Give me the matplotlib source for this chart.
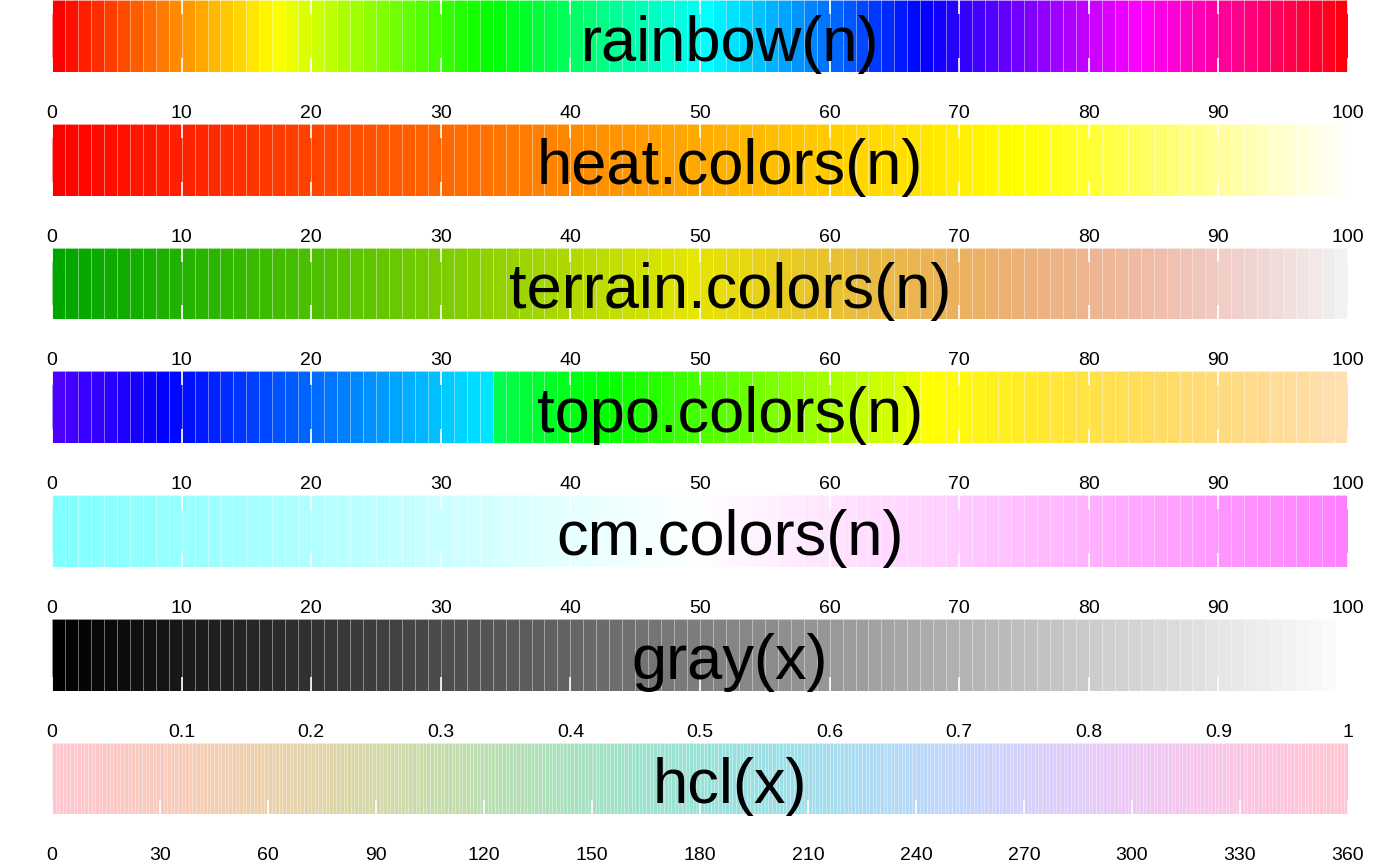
import numpy as np
import matplotlib
matplotlib.use("Agg")
import matplotlib.pyplot as plt
from matplotlib.colors import hsv_to_rgb

plt.rcParams['font.family'] = ['Liberation Sans', 'DejaVu Sans']

# data
n = 100
titles = ["rainbow(n)", "heat.colors(n)", "terrain.colors(n)", "topo.colors(n)",
          "cm.colors(n)", "gray(x)", "hcl(x)"]
ticks_n = [0, 10, 20, 30, 40, 50, 60, 70, 80, 90, 100]
ticks_gray = [0, 0.1, 0.2, 0.3, 0.4, 0.5, 0.6, 0.7, 0.8, 0.9, 1]
labels_gray = ["0", "0.1", "0.2", "0.3", "0.4", "0.5", "0.6", "0.7", "0.8", "0.9", "1"]
ticks_hcl = [0, 30, 60, 90, 120, 150, 180, 210, 240, 270, 300, 330, 360]
gray_levels = np.arange(0, 99) / 100      # gray(x), 0 .. 0.98
hcl_hues = np.arange(0, 360)              # hcl(h, c=35, l=85)


def hsv(h, s=1.0, v=1.0):
    h, s, v = np.broadcast_arrays(np.asarray(h, float), np.asarray(s, float), np.asarray(v, float))
    return hsv_to_rgb(np.column_stack([h % 1.0, s, v]))


def rainbow(k, start=0.0, end=None):
    if end is None:
        end = max(1, k - 1) / k
    return hsv(np.linspace(start, end, k))


def heat_colors(k):
    j = k // 4
    i = k - j
    return np.vstack([rainbow(i, 0, 1 / 6),
                      hsv(1 / 6, np.linspace(1 - 1 / (2 * j), 1 / (2 * j), j), 1)])


def terrain_colors(k):
    m = k // 2
    a = hsv(np.linspace(4 / 12, 2 / 12, m), np.linspace(1, 1, m), np.linspace(0.65, 0.9, m))
    b = hsv(np.linspace(2 / 12, 0, k - m + 1)[1:], np.linspace(1, 0, k - m + 1)[1:],
            np.linspace(0.9, 0.95, k - m + 1)[1:])
    return np.vstack([a, b])


def topo_colors(k):
    j = k // 3
    m = k // 3
    i = k - j - m
    return np.vstack([hsv(np.linspace(43 / 60, 31 / 60, i)),
                      hsv(np.linspace(23 / 60, 11 / 60, j)),
                      hsv(np.linspace(10 / 60, 6 / 60, m), np.linspace(1, 0.3, m), 1)])


def cm_colors(k):
    m = k // 2
    l1 = m
    l2 = k - m + 1
    return np.vstack([hsv(6 / 12, np.linspace(0.5, 0.5 / m, l1), 1),
                      hsv(10 / 12, np.linspace(0, 0.5, l2)[1:], 1)])


def gray(x):
    x = np.asarray(x, float)
    return np.column_stack([x, x, x])


def hcl(h, c=35, l=85):
    h = np.deg2rad(np.asarray(h, float))
    U = c * np.cos(h)
    V = c * np.sin(h)
    Xn, Yn, Zn = 95.047, 100.0, 108.883
    Y = Yn * ((l + 16) / 116) ** 3
    un = 4 * Xn / (Xn + 15 * Yn + 3 * Zn)
    vn = 9 * Yn / (Xn + 15 * Yn + 3 * Zn)
    u = U / (13 * l) + un
    v = V / (13 * l) + vn
    X = 9 * Y * u / (4 * v)
    Z = -X / 3 - 5 * Y + 3 * Y / v
    r = (3.240479 * X - 1.537150 * Y - 0.498535 * Z) / Yn
    g = (-0.969256 * X + 1.875992 * Y + 0.041556 * Z) / Yn
    b = (0.055648 * X - 0.204043 * Y + 1.057311 * Z) / Yn
    rgb = np.column_stack([r, g, b])
    rgb = np.where(rgb > 0.0031308, 1.055 * np.abs(rgb) ** (1 / 2.4) - 0.055, 12.92 * rgb)
    return np.clip(rgb, 0, 1)


idx = np.arange(n)
panels = [
    (idx, 1, rainbow(n), ticks_n, None, (0, 100), True),
    (idx, 1, heat_colors(n), ticks_n, None, (0, 100), True),
    (idx, 1, terrain_colors(n), ticks_n, None, (0, 100), True),
    (idx, 1, topo_colors(n), ticks_n, None, (0, 100), True),
    (idx, 1, cm_colors(n), ticks_n, None, (0, 100), True),
    (gray_levels, 0.01, gray(gray_levels), ticks_gray, labels_gray, (0, 1), False),
    (hcl_hues, 1, hcl(hcl_hues), ticks_hcl, None, (0, 360), False),
]

W, H = 1400, 866
fig = plt.figure(figsize=(14, 8.66), dpi=100)

for i, (xs, w, cols, ticks, tlabels, xlim, top) in enumerate(panels):
    top_px = 0.3 + 123.7 * i
    h_px = 71.7
    ax = fig.add_axes([52 / W, 1 - (top_px + h_px) / H, 1296 / W, h_px / H])
    ax.bar(xs, 1, width=w, align='edge', color=cols,
           edgecolor=(1, 1, 1, 0.3), linewidth=0.4)
    ax.set_xlim(*xlim)
    ax.set_ylim(0, 1)
    for sp in ax.spines.values():
        sp.set_visible(False)
    ax.set_yticks([])
    ax.set_xticks(ticks)
    if tlabels is not None:
        ax.set_xticklabels(tlabels)
    ax.tick_params(axis='x', direction='in', length=10.2, width=1.2, color='white',
                   labelsize=14, pad=23.8, top=top, labelcolor='black')
    ax.text(0.523, 0.16, titles[i], transform=ax.transAxes, ha='center',
            va='baseline', fontsize=45.5, color='black')

fig.savefig("out.png", dpi=100)
